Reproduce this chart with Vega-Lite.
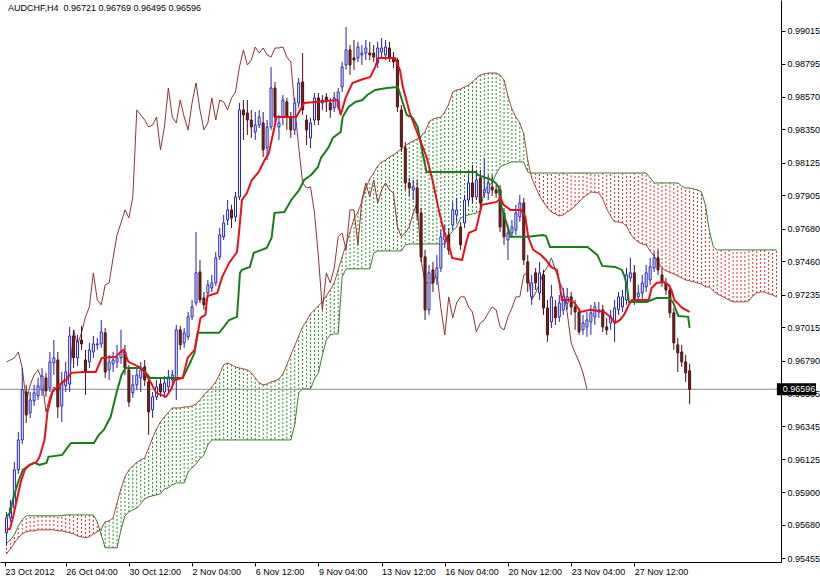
{
"$schema":"https://vega.github.io/schema/vega-lite/v6.json",
"width":781,"height":562,
"autosize":{"type":"none"},
"padding":{"left":0,"top":0,"right":39,"bottom":17},
"background":"#ffffff",
"config":{"view":{"stroke":null},"font":"Liberation Sans",
 "axis":{"labelOverlap":false,"labelSeparation":0,"grid":false,"title":null,"labelFont":"Liberation Sans","labelFontSize":9,"labelColor":"#000000","domainColor":"#000000","tickColor":"#000000","tickSize":4,"labelFlush":false,"labelBound":false,"tickCount":40}},
"datasets":{
"bars":[
{"i":0,"o":0.95627,"h":0.95768,"l":0.95539,"c":0.95728,"k":0.96781},
{"i":1,"o":0.95728,"h":0.95849,"l":0.95701,"c":0.95795,"k":0.96794},
{"i":2,"o":0.95795,"h":0.96106,"l":0.95768,"c":0.96052,"k":0.96808},
{"i":3,"o":0.96052,"h":0.96308,"l":0.96025,"c":0.96254,"k":0.96848},
{"i":4,"o":0.96254,"h":0.9674,"l":0.96227,"c":0.96592,"k":0.9674},
{"i":5,"o":0.96578,"h":0.96626,"l":0.96369,"c":0.96423,"k":0.96511},
{"i":6,"o":0.96437,"h":0.96578,"l":0.96403,"c":0.96524,"k":0.96626},
{"i":7,"o":0.96518,"h":0.96626,"l":0.96484,"c":0.96572,"k":0.96693},
{"i":8,"o":0.96551,"h":0.96673,"l":0.96524,"c":0.96619,"k":0.96727},
{"i":9,"o":0.96592,"h":0.9674,"l":0.96551,"c":0.96686,"k":0.96659},
{"i":10,"o":0.96673,"h":0.96707,"l":0.96545,"c":0.96585,"k":0.96443},
{"i":11,"o":0.96605,"h":0.96848,"l":0.96578,"c":0.96781,"k":0.96545},
{"i":12,"o":0.96774,"h":0.96929,"l":0.96693,"c":0.96808,"k":0.96612},
{"i":13,"o":0.96794,"h":0.96848,"l":0.96403,"c":0.96477,"k":0.96578},
{"i":14,"o":0.96484,"h":0.96713,"l":0.96376,"c":0.96632,"k":0.96639},
{"i":15,"o":0.96619,"h":0.96781,"l":0.96578,"c":0.96713,"k":0.9668},
{"i":16,"o":0.96632,"h":0.97017,"l":0.96578,"c":0.96956,"k":0.96693},
{"i":17,"o":0.96956,"h":0.96997,"l":0.9674,"c":0.96808,"k":0.96997},
{"i":18,"o":0.96808,"h":0.96963,"l":0.96754,"c":0.96916,"k":0.96896},
{"i":19,"o":0.96929,"h":0.97024,"l":0.96862,"c":0.96902,"k":0.96977},
{"i":20,"o":0.96794,"h":0.96862,"l":0.96558,"c":0.96713,"k":0.97085},
{"i":21,"o":0.96781,"h":0.96909,"l":0.9674,"c":0.96862,"k":0.97152},
{"i":22,"o":0.96848,"h":0.96956,"l":0.96808,"c":0.96902,"k":0.97382},
{"i":23,"o":0.96896,"h":0.96943,"l":0.96862,"c":0.96902,"k":0.97199},
{"i":24,"o":0.96902,"h":0.97064,"l":0.96875,"c":0.96983,"k":0.97166},
{"i":25,"o":0.96977,"h":0.9701,"l":0.96673,"c":0.96713,"k":0.97301},
{"i":26,"o":0.96727,"h":0.96828,"l":0.96659,"c":0.96781,"k":0.97314},
{"i":27,"o":0.96767,"h":0.96848,"l":0.96713,"c":0.96794,"k":0.97483},
{"i":28,"o":0.96781,"h":0.96896,"l":0.9674,"c":0.96808,"k":0.97638},
{"i":29,"o":0.96808,"h":0.96997,"l":0.96767,"c":0.96848,"k":0.97719},
{"i":30,"o":0.96848,"h":0.96896,"l":0.96693,"c":0.9674,"k":0.97807},
{"i":31,"o":0.96727,"h":0.96761,"l":0.96477,"c":0.96511,"k":0.97753},
{"i":32,"o":0.96572,"h":0.96693,"l":0.96538,"c":0.96626,"k":0.97894},
{"i":33,"o":0.96626,"h":0.9674,"l":0.96592,"c":0.96693,"k":0.98482},
{"i":34,"o":0.96673,"h":0.96781,"l":0.96578,"c":0.96727,"k":0.98448},
{"i":35,"o":0.96747,"h":0.96794,"l":0.96619,"c":0.96659,"k":0.98414},
{"i":36,"o":0.96646,"h":0.96673,"l":0.96288,"c":0.96443,"k":0.98367},
{"i":37,"o":0.96457,"h":0.96578,"l":0.96403,"c":0.96545,"k":0.9838},
{"i":38,"o":0.96545,"h":0.96659,"l":0.96524,"c":0.96612,"k":0.98434},
{"i":39,"o":0.96632,"h":0.96673,"l":0.96545,"c":0.96578,"k":0.98212},
{"i":40,"o":0.96578,"h":0.96686,"l":0.96538,"c":0.96639,"k":0.98367},
{"i":41,"o":0.96612,"h":0.96727,"l":0.96578,"c":0.9668,"k":0.9863},
{"i":42,"o":0.96659,"h":0.96727,"l":0.96605,"c":0.96693,"k":0.98434},
{"i":43,"o":0.96659,"h":0.97031,"l":0.96524,"c":0.96997,"k":0.98394},
{"i":44,"o":0.96997,"h":0.97024,"l":0.96862,"c":0.96896,"k":0.98549},
{"i":45,"o":0.96909,"h":0.9701,"l":0.96875,"c":0.96977,"k":0.98434},
{"i":46,"o":0.9695,"h":0.97118,"l":0.96929,"c":0.97085,"k":0.98347},
{"i":47,"o":0.97085,"h":0.97199,"l":0.97064,"c":0.97152,"k":0.98529},
{"i":48,"o":0.97179,"h":0.97658,"l":0.97159,"c":0.97382,"k":0.98664},
{"i":49,"o":0.97388,"h":0.97469,"l":0.97179,"c":0.97199,"k":0.98482},
{"i":50,"o":0.97213,"h":0.97253,"l":0.97132,"c":0.97166,"k":0.98347},
{"i":51,"o":0.97246,"h":0.97334,"l":0.97213,"c":0.97301,"k":0.98394},
{"i":52,"o":0.9728,"h":0.97368,"l":0.97253,"c":0.97314,"k":0.98563},
{"i":53,"o":0.97314,"h":0.97523,"l":0.97294,"c":0.97483,"k":0.98414},
{"i":54,"o":0.9749,"h":0.97685,"l":0.97469,"c":0.97638,"k":0.98549},
{"i":55,"o":0.97625,"h":0.97773,"l":0.97604,"c":0.97719,"k":0.98536},
{"i":56,"o":0.97739,"h":0.97874,"l":0.97705,"c":0.97807,"k":0.98482},
{"i":57,"o":0.97807,"h":0.97841,"l":0.97685,"c":0.97753,"k":0.98563},
{"i":58,"o":0.9776,"h":0.97928,"l":0.97726,"c":0.97894,"k":0.98603},
{"i":59,"o":0.97894,"h":0.98529,"l":0.97874,"c":0.98482,"k":0.98772},
{"i":60,"o":0.98482,"h":0.98549,"l":0.98279,"c":0.98448,"k":0.98887},
{"i":61,"o":0.98461,"h":0.98549,"l":0.98313,"c":0.98414,"k":0.98785},
{"i":62,"o":0.98414,"h":0.98482,"l":0.98293,"c":0.98367,"k":0.98819},
{"i":63,"o":0.98333,"h":0.98468,"l":0.98279,"c":0.9838,"k":0.98907},
{"i":64,"o":0.9838,"h":0.98482,"l":0.9836,"c":0.98434,"k":0.98866},
{"i":65,"o":0.98394,"h":0.98468,"l":0.98164,"c":0.98212,"k":0.989},
{"i":66,"o":0.98225,"h":0.98414,"l":0.98144,"c":0.98367,"k":0.98853},
{"i":67,"o":0.98367,"h":0.98772,"l":0.98347,"c":0.9863,"k":0.98839},
{"i":68,"o":0.9863,"h":0.98671,"l":0.98401,"c":0.98434,"k":0.989},
{"i":69,"o":0.98367,"h":0.98448,"l":0.98279,"c":0.98394,"k":0.989},
{"i":70,"o":0.98434,"h":0.98583,"l":0.9838,"c":0.98549,"k":0.98907},
{"i":71,"o":0.98536,"h":0.98563,"l":0.98347,"c":0.98434,"k":0.98839},
{"i":72,"o":0.98434,"h":0.98468,"l":0.98293,"c":0.98347,"k":0.98806},
{"i":73,"o":0.98347,"h":0.98563,"l":0.98313,"c":0.98529,"k":0.98502},
{"i":74,"o":0.98529,"h":0.98698,"l":0.98495,"c":0.98664,"k":0.98232},
{"i":75,"o":0.98671,"h":0.98866,"l":0.98448,"c":0.98482,"k":0.97989},
{"i":76,"o":0.98414,"h":0.98448,"l":0.98245,"c":0.98347,"k":0.97955},
{"i":77,"o":0.98293,"h":0.98428,"l":0.98225,"c":0.98394,"k":0.97962},
{"i":78,"o":0.98414,"h":0.98596,"l":0.9838,"c":0.98563,"k":0.97786},
{"i":79,"o":0.98563,"h":0.98596,"l":0.9838,"c":0.98414,"k":0.9749},
{"i":80,"o":0.98529,"h":0.98583,"l":0.98482,"c":0.98549,"k":0.97132},
{"i":81,"o":0.98569,"h":0.98596,"l":0.98468,"c":0.98536,"k":0.97382},
{"i":82,"o":0.98529,"h":0.98563,"l":0.98428,"c":0.98482,"k":0.97314},
{"i":83,"o":0.98495,"h":0.98603,"l":0.98468,"c":0.98563,"k":0.97415},
{"i":84,"o":0.98502,"h":0.9863,"l":0.98482,"c":0.98603,"k":0.97625},
{"i":85,"o":0.98637,"h":0.98806,"l":0.98603,"c":0.98772,"k":0.97651},
{"i":86,"o":0.98785,"h":0.99042,"l":0.98752,"c":0.98887,"k":0.97537},
{"i":87,"o":0.98887,"h":0.9892,"l":0.98718,"c":0.98785,"k":0.97807},
{"i":88,"o":0.98833,"h":0.98954,"l":0.98752,"c":0.98819,"k":0.97807},
{"i":89,"o":0.98833,"h":0.98941,"l":0.98806,"c":0.98907,"k":0.97571},
{"i":90,"o":0.98853,"h":0.9892,"l":0.98785,"c":0.98866,"k":0.97874},
{"i":91,"o":0.98866,"h":0.98954,"l":0.98819,"c":0.989,"k":0.97989},
{"i":92,"o":0.98866,"h":0.98941,"l":0.98819,"c":0.98853,"k":0.97894},
{"i":93,"o":0.98866,"h":0.9892,"l":0.98806,"c":0.98839,"k":0.98009},
{"i":94,"o":0.98799,"h":0.98941,"l":0.98765,"c":0.989,"k":0.97854},
{"i":95,"o":0.98873,"h":0.98968,"l":0.98833,"c":0.989,"k":0.97942},
{"i":96,"o":0.98853,"h":0.98954,"l":0.98819,"c":0.98907,"k":0.97989},
{"i":97,"o":0.989,"h":0.98941,"l":0.98806,"c":0.98839,"k":0.97942},
{"i":98,"o":0.98833,"h":0.98873,"l":0.98765,"c":0.98806,"k":0.97921},
{"i":99,"o":0.98819,"h":0.98833,"l":0.98468,"c":0.98502,"k":0.97692},
{"i":100,"o":0.98482,"h":0.98515,"l":0.98198,"c":0.98232,"k":0.97625},
{"i":101,"o":0.98225,"h":0.98266,"l":0.97942,"c":0.97989,"k":0.97651},
{"i":102,"o":0.97989,"h":0.98023,"l":0.97901,"c":0.97955,"k":0.97692},
{"i":103,"o":0.97942,"h":0.98009,"l":0.97874,"c":0.97962,"k":0.97786},
{"i":104,"o":0.97955,"h":0.98009,"l":0.97739,"c":0.97786,"k":0.97854},
{"i":105,"o":0.97786,"h":0.9782,"l":0.97456,"c":0.9749,"k":0.97469},
{"i":106,"o":0.9749,"h":0.97537,"l":0.97064,"c":0.97132,"k":0.97314},
{"i":107,"o":0.97132,"h":0.97435,"l":0.97098,"c":0.97382,"k":0.97314},
{"i":108,"o":0.97402,"h":0.97456,"l":0.97253,"c":0.97314,"k":0.97314},
{"i":109,"o":0.97348,"h":0.97503,"l":0.97301,"c":0.97415,"k":0.97382},
{"i":110,"o":0.97415,"h":0.97672,"l":0.97388,"c":0.97625,"k":0.97145},
{"i":111,"o":0.97604,"h":0.97705,"l":0.9755,"c":0.97651,"k":0.96963},
{"i":112,"o":0.97638,"h":0.97685,"l":0.97503,"c":0.97537,"k":0.9722},
{"i":113,"o":0.97705,"h":0.97861,"l":0.97672,"c":0.97807,"k":0.97078},
{"i":114,"o":0.97773,"h":0.97888,"l":0.97726,"c":0.97807,"k":0.97179},
{"i":115,"o":0.97692,"h":0.97726,"l":0.97537,"c":0.97571,"k":0.9722},
{"i":116,"o":0.97719,"h":0.97908,"l":0.97685,"c":0.97874,"k":0.9722},
{"i":117,"o":0.97874,"h":0.98043,"l":0.97841,"c":0.97989,"k":0.97152},
{"i":118,"o":0.97989,"h":0.9811,"l":0.97854,"c":0.97894,"k":0.97118},
{"i":119,"o":0.97894,"h":0.98077,"l":0.97874,"c":0.98009,"k":0.96983},
{"i":120,"o":0.98023,"h":0.98077,"l":0.97793,"c":0.97854,"k":0.97044},
{"i":121,"o":0.97921,"h":0.98158,"l":0.97888,"c":0.97942,"k":0.97064},
{"i":122,"o":0.97921,"h":0.98043,"l":0.97874,"c":0.97989,"k":0.97112},
{"i":123,"o":0.97962,"h":0.98043,"l":0.97901,"c":0.97942,"k":0.97152},
{"i":124,"o":0.97942,"h":0.97975,"l":0.97888,"c":0.97921,"k":0.97132},
{"i":125,"o":0.97942,"h":0.97975,"l":0.97658,"c":0.97692,"k":0.97017},
{"i":126,"o":0.97786,"h":0.9782,"l":0.97571,"c":0.97625,"k":0.96997},
{"i":127,"o":0.97604,"h":0.97705,"l":0.97469,"c":0.97651,"k":0.97085},
{"i":128,"o":0.97651,"h":0.97739,"l":0.97618,"c":0.97692,"k":0.97145},
{"i":129,"o":0.97672,"h":0.97841,"l":0.97638,"c":0.97786,"k":0.9722},
{"i":130,"o":0.9776,"h":0.97908,"l":0.97726,"c":0.97854,"k":0.9722},
{"i":131,"o":0.97854,"h":0.97888,"l":0.97435,"c":0.97469,"k":0.97368},
{"i":132,"o":0.97456,"h":0.97503,"l":0.97253,"c":0.97314,"k":0.97382},
{"i":133,"o":0.9722,"h":0.97368,"l":0.97166,"c":0.97314,"k":0.97199},
{"i":134,"o":0.97382,"h":0.97415,"l":0.97267,"c":0.97314,"k":0.97246},
{"i":135,"o":0.97246,"h":0.97456,"l":0.97199,"c":0.97382,"k":0.97314},
{"i":136,"o":0.97368,"h":0.97402,"l":0.97098,"c":0.97145,"k":0.97382},
{"i":137,"o":0.97145,"h":0.97199,"l":0.96916,"c":0.96963,"k":0.97422},
{"i":138,"o":0.97051,"h":0.97301,"l":0.9701,"c":0.9722,"k":0.97483},
{"i":139,"o":0.97152,"h":0.97199,"l":0.97031,"c":0.97078,"k":0.97402},
{"i":140,"o":0.97085,"h":0.97233,"l":0.97051,"c":0.97179,"k":0.97321},
{"i":141,"o":0.97132,"h":0.9728,"l":0.97098,"c":0.9722,"k":0.97267},
{"i":142,"o":0.97179,"h":0.9728,"l":0.97132,"c":0.9722,"k":0.97112},
{"i":143,"o":0.9722,"h":0.97253,"l":0.97098,"c":0.97152,"k":0.96909},
{"i":144,"o":0.97152,"h":0.97199,"l":0.96997,"c":0.97118,"k":0.96842},
{"i":145,"o":0.97118,"h":0.97145,"l":0.96963,"c":0.96983,"k":0.96781},
{"i":146,"o":0.96997,"h":0.97098,"l":0.96963,"c":0.97044,"k":0.96707},
{"i":147,"o":0.97017,"h":0.97118,"l":0.9695,"c":0.97064,"k":0.96596},
{"i":148,"o":0.97051,"h":0.97166,"l":0.96963,"c":0.97112},
{"i":149,"o":0.97085,"h":0.97186,"l":0.97031,"c":0.97152},
{"i":150,"o":0.97118,"h":0.97186,"l":0.97078,"c":0.97132},
{"i":151,"o":0.97132,"h":0.97166,"l":0.96983,"c":0.97017},
{"i":152,"o":0.97017,"h":0.97078,"l":0.96963,"c":0.96997},
{"i":153,"o":0.97044,"h":0.97132,"l":0.96997,"c":0.97085},
{"i":154,"o":0.97044,"h":0.97199,"l":0.96916,"c":0.97145},
{"i":155,"o":0.97132,"h":0.97253,"l":0.97098,"c":0.9722},
{"i":156,"o":0.97152,"h":0.97267,"l":0.97118,"c":0.9722},
{"i":157,"o":0.97199,"h":0.97415,"l":0.97166,"c":0.97368},
{"i":158,"o":0.97348,"h":0.97483,"l":0.97321,"c":0.97382},
{"i":159,"o":0.97382,"h":0.97435,"l":0.97166,"c":0.97199},
{"i":160,"o":0.9722,"h":0.97301,"l":0.97186,"c":0.97246},
{"i":161,"o":0.97246,"h":0.97368,"l":0.97199,"c":0.97314},
{"i":162,"o":0.97287,"h":0.97435,"l":0.97253,"c":0.97382},
{"i":163,"o":0.97334,"h":0.97483,"l":0.97301,"c":0.97422},
{"i":164,"o":0.97415,"h":0.97523,"l":0.97388,"c":0.97483},
{"i":165,"o":0.97483,"h":0.97537,"l":0.97368,"c":0.97402},
{"i":166,"o":0.97368,"h":0.97415,"l":0.97287,"c":0.97321},
{"i":167,"o":0.97314,"h":0.97348,"l":0.97233,"c":0.97267},
{"i":168,"o":0.97267,"h":0.97301,"l":0.97078,"c":0.97112},
{"i":169,"o":0.97112,"h":0.97145,"l":0.96862,"c":0.96909},
{"i":170,"o":0.96896,"h":0.96943,"l":0.96713,"c":0.96842},
{"i":171,"o":0.96848,"h":0.96896,"l":0.96747,"c":0.96781},
{"i":172,"o":0.96781,"h":0.96828,"l":0.96646,"c":0.96707},
{"i":173,"o":0.96721,"h":0.96769,"l":0.96495,"c":0.96596}
],
"cloud":[
{"i":0,"a":0.95485,"b":0.95553},{"i":1,"a":0.95519,"b":0.9558},{"i":2,"a":0.95559,"b":0.95613},{"i":3,"a":0.95593,"b":0.95674},{"i":4,"a":0.9562,"b":0.95715},{"i":5,"a":0.95633,"b":0.95742},{"i":6,"a":0.9564,"b":0.95742},{"i":7,"a":0.9564,"b":0.95742},{"i":8,"a":0.95647,"b":0.95742},{"i":9,"a":0.95647,"b":0.95742},
{"i":10,"a":0.95647,"b":0.95742},{"i":11,"a":0.95647,"b":0.95742},{"i":12,"a":0.95647,"b":0.95742},{"i":13,"a":0.9564,"b":0.95742},{"i":14,"a":0.9564,"b":0.95742},{"i":15,"a":0.95633,"b":0.95748},{"i":16,"a":0.95627,"b":0.95748},{"i":17,"a":0.9562,"b":0.95748},{"i":18,"a":0.95606,"b":0.95748},{"i":19,"a":0.956,"b":0.95748},
{"i":20,"a":0.95593,"b":0.95748},{"i":21,"a":0.956,"b":0.95748},{"i":22,"a":0.9562,"b":0.95748},{"i":23,"a":0.95633,"b":0.95701},{"i":24,"a":0.95654,"b":0.95613},{"i":25,"a":0.95701,"b":0.95526},{"i":26,"a":0.95708,"b":0.95526},{"i":27,"a":0.95728,"b":0.95526},{"i":28,"a":0.95829,"b":0.95526},{"i":29,"a":0.95924,"b":0.95647},
{"i":30,"a":0.96005,"b":0.95742},{"i":31,"a":0.96052,"b":0.95768},{"i":32,"a":0.96079,"b":0.95782},{"i":33,"a":0.96103,"b":0.95795},{"i":34,"a":0.9612,"b":0.95823},{"i":35,"a":0.96133,"b":0.95856},{"i":36,"a":0.962,"b":0.9587},{"i":37,"a":0.96268,"b":0.95877},{"i":38,"a":0.96329,"b":0.95883},{"i":39,"a":0.96376,"b":0.9589},
{"i":40,"a":0.9641,"b":0.95924},{"i":41,"a":0.9644,"b":0.95931},{"i":42,"a":0.9647,"b":0.95951},{"i":43,"a":0.9647,"b":0.95964},{"i":44,"a":0.9647,"b":0.95964},{"i":45,"a":0.96477,"b":0.95964},{"i":46,"a":0.96477,"b":0.96039},{"i":47,"a":0.96484,"b":0.96066},{"i":48,"a":0.96497,"b":0.96093},{"i":49,"a":0.96524,"b":0.96126},
{"i":50,"a":0.96558,"b":0.96153},{"i":51,"a":0.96585,"b":0.96221},{"i":52,"a":0.96612,"b":0.96254},{"i":53,"a":0.96646,"b":0.96254},{"i":54,"a":0.967,"b":0.96254},{"i":55,"a":0.96761,"b":0.96254},{"i":56,"a":0.96774,"b":0.96254},{"i":57,"a":0.96761,"b":0.96254},{"i":58,"a":0.96747,"b":0.96254},{"i":59,"a":0.9674,"b":0.96254},
{"i":60,"a":0.96734,"b":0.96254},{"i":61,"a":0.96727,"b":0.96254},{"i":62,"a":0.96707,"b":0.96254},{"i":63,"a":0.96673,"b":0.96254},{"i":64,"a":0.96639,"b":0.96254},{"i":65,"a":0.96626,"b":0.96254},{"i":66,"a":0.96632,"b":0.96254},{"i":67,"a":0.96646,"b":0.96254},{"i":68,"a":0.96653,"b":0.96254},{"i":69,"a":0.96666,"b":0.96254},
{"i":70,"a":0.967,"b":0.96254},{"i":71,"a":0.96761,"b":0.96254},{"i":72,"a":0.96828,"b":0.96254},{"i":73,"a":0.96889,"b":0.96356},{"i":74,"a":0.96956,"b":0.96572},{"i":75,"a":0.97017,"b":0.96599},{"i":76,"a":0.97058,"b":0.96599},{"i":77,"a":0.97105,"b":0.96599},{"i":78,"a":0.97132,"b":0.96666},{"i":79,"a":0.97159,"b":0.96707},
{"i":80,"a":0.97186,"b":0.96828},{"i":81,"a":0.97226,"b":0.96929},{"i":82,"a":0.97267,"b":0.96963},{"i":83,"a":0.97314,"b":0.9697},{"i":84,"a":0.97402,"b":0.9697},{"i":85,"a":0.9749,"b":0.97355},{"i":86,"a":0.97571,"b":0.97409},{"i":87,"a":0.97658,"b":0.97409},{"i":88,"a":0.97746,"b":0.97409},{"i":89,"a":0.97793,"b":0.97409},
{"i":90,"a":0.97861,"b":0.97409},{"i":91,"a":0.97955,"b":0.97409},{"i":92,"a":0.98016,"b":0.97409},{"i":93,"a":0.98056,"b":0.97517},{"i":94,"a":0.98104,"b":0.9753},{"i":95,"a":0.98131,"b":0.9753},{"i":96,"a":0.98144,"b":0.9753},{"i":97,"a":0.98164,"b":0.9753},{"i":98,"a":0.98178,"b":0.9753},{"i":99,"a":0.98198,"b":0.9753},
{"i":100,"a":0.98218,"b":0.9753},{"i":101,"a":0.98239,"b":0.97571},{"i":102,"a":0.98259,"b":0.97577},{"i":103,"a":0.98272,"b":0.97577},{"i":104,"a":0.98286,"b":0.97577},{"i":105,"a":0.98306,"b":0.97577},{"i":106,"a":0.98333,"b":0.97577},{"i":107,"a":0.98401,"b":0.97577},{"i":108,"a":0.98421,"b":0.97577},{"i":109,"a":0.98428,"b":0.97577},
{"i":110,"a":0.98434,"b":0.97577},{"i":111,"a":0.98468,"b":0.97577},{"i":112,"a":0.98522,"b":0.97631},{"i":113,"a":0.98603,"b":0.97665},{"i":114,"a":0.98617,"b":0.97692},{"i":115,"a":0.98623,"b":0.97753},{"i":116,"a":0.98637,"b":0.97766},{"i":117,"a":0.9865,"b":0.97773},{"i":118,"a":0.98671,"b":0.9778},{"i":119,"a":0.98698,"b":0.97787},
{"i":120,"a":0.98718,"b":0.978},{"i":121,"a":0.98725,"b":0.97935},{"i":122,"a":0.98731,"b":0.97969},{"i":123,"a":0.98731,"b":0.97989},{"i":124,"a":0.98731,"b":0.9805},{"i":125,"a":0.98718,"b":0.98097},{"i":126,"a":0.98684,"b":0.9811},{"i":127,"a":0.98576,"b":0.98121},{"i":128,"a":0.98488,"b":0.98131},{"i":129,"a":0.98434,"b":0.98131},
{"i":130,"a":0.98394,"b":0.98131},{"i":131,"a":0.9832,"b":0.98131},{"i":132,"a":0.98144,"b":0.98063},{"i":133,"a":0.98023,"b":0.98056},{"i":134,"a":0.97962,"b":0.98056},{"i":135,"a":0.97901,"b":0.98056},{"i":136,"a":0.97861,"b":0.98056},{"i":137,"a":0.9782,"b":0.98056},{"i":138,"a":0.97793,"b":0.98056},{"i":139,"a":0.9778,"b":0.98056},
{"i":140,"a":0.97766,"b":0.98056},{"i":141,"a":0.97773,"b":0.98056},{"i":142,"a":0.97793,"b":0.98056},{"i":143,"a":0.9781,"b":0.98056},{"i":144,"a":0.97834,"b":0.98056},{"i":145,"a":0.97861,"b":0.98056},{"i":146,"a":0.97888,"b":0.98056},{"i":147,"a":0.97908,"b":0.98056},{"i":148,"a":0.97928,"b":0.98056},{"i":149,"a":0.97925,"b":0.98056},
{"i":150,"a":0.97921,"b":0.98056},{"i":151,"a":0.97881,"b":0.98056},{"i":152,"a":0.97814,"b":0.98056},{"i":153,"a":0.97766,"b":0.98056},{"i":154,"a":0.97726,"b":0.98056},{"i":155,"a":0.97726,"b":0.98056},{"i":156,"a":0.97719,"b":0.98056},{"i":157,"a":0.97699,"b":0.98056},{"i":158,"a":0.97645,"b":0.98056},{"i":159,"a":0.97611,"b":0.98056},
{"i":160,"a":0.97591,"b":0.98056},{"i":161,"a":0.97577,"b":0.98056},{"i":162,"a":0.97571,"b":0.98056},{"i":163,"a":0.9753,"b":0.98023},{"i":164,"a":0.97496,"b":0.97989},{"i":165,"a":0.97456,"b":0.97989},{"i":166,"a":0.97415,"b":0.97989},{"i":167,"a":0.97395,"b":0.97989},{"i":168,"a":0.97385,"b":0.97989},{"i":169,"a":0.97375,"b":0.97989},
{"i":170,"a":0.97361,"b":0.97989},{"i":171,"a":0.97348,"b":0.97969},{"i":172,"a":0.97334,"b":0.97955},{"i":173,"a":0.97328,"b":0.97955},{"i":174,"a":0.97321,"b":0.97948},{"i":175,"a":0.97314,"b":0.97942},{"i":176,"a":0.97307,"b":0.97928},{"i":177,"a":0.97287,"b":0.97841},{"i":178,"a":0.97287,"b":0.97665},{"i":179,"a":0.9726,"b":0.97557},
{"i":180,"a":0.9724,"b":0.97537},{"i":181,"a":0.97226,"b":0.97537},{"i":182,"a":0.97213,"b":0.97537},{"i":183,"a":0.97199,"b":0.97537},{"i":184,"a":0.97186,"b":0.97537},{"i":185,"a":0.97186,"b":0.97537},{"i":186,"a":0.97186,"b":0.97537},{"i":187,"a":0.97186,"b":0.97537},{"i":188,"a":0.97193,"b":0.97537},{"i":189,"a":0.97226,"b":0.97537},
{"i":190,"a":0.97247,"b":0.97537},{"i":191,"a":0.97253,"b":0.97537},{"i":192,"a":0.97253,"b":0.97537},{"i":193,"a":0.9724,"b":0.97537},{"i":194,"a":0.97233,"b":0.97537},{"i":195,"a":0.9722,"b":0.97537}
],
"tenkan":[
{"i":0,"v":0.95647},{"i":0.88,"v":0.95654},{"i":1.63,"v":0.95728},{"i":2.63,"v":0.9585},{"i":3.63,"v":0.95971},{"i":4.63,"v":0.96052},{"i":5.88,"v":0.96086},{"i":7.63,"v":0.96106},{"i":8.38,"v":0.9614},{"i":9.63,"v":0.96254},{"i":10.38,"v":0.96443},{"i":11.63,"v":0.96578},{"i":13.38,"v":0.96626},{"i":15.13,"v":0.96659},{"i":16.38,"v":0.96707},{"i":19.63,"v":0.96713},{"i":22.63,"v":0.96713},{"i":24.13,"v":0.96808},{"i":27.63,"v":0.96815},{"i":28.88,"v":0.96848},{"i":29.63,"v":0.96862},{"i":30.88,"v":0.96781},{"i":34.13,"v":0.9674},{"i":35.38,"v":0.96693},{"i":36.63,"v":0.96639},{"i":37.88,"v":0.96572},{"i":40.38,"v":0.96545},{"i":41.63,"v":0.96592},{"i":42.63,"v":0.96659},{"i":44.63,"v":0.96673},{"i":45.88,"v":0.96808},{"i":47.63,"v":0.96862},{"i":48.38,"v":0.96963},{"i":49.13,"v":0.97078},{"i":50.38,"v":0.97098},{"i":50.88,"v":0.97226},{"i":53.38,"v":0.97246},{"i":54.63,"v":0.97355},{"i":56.38,"v":0.97449},{"i":58.38,"v":0.97523},{"i":58.88,"v":0.97652},{"i":59.63,"v":0.97874},{"i":60.88,"v":0.97921},{"i":62.13,"v":0.98009},{"i":63.88,"v":0.98063},{"i":65.38,"v":0.98144},{"i":66.38,"v":0.98185},{"i":67.88,"v":0.98367},{"i":68.38,"v":0.98434},{"i":73.38,"v":0.98434},{"i":75.38,"v":0.98529},{"i":83.88,"v":0.98549},{"i":84.63,"v":0.98448},{"i":85.88,"v":0.98563},{"i":87.63,"v":0.98664},{"i":89.63,"v":0.98684},{"i":92.13,"v":0.98704},{"i":93.38,"v":0.98772},{"i":94.13,"v":0.98833},{"i":98.38,"v":0.98833},{"i":99.63,"v":0.98752},{"i":100.38,"v":0.98637},{"i":102.13,"v":0.98461},{"i":106.38,"v":0.98164},{"i":107.88,"v":0.98009},{"i":109.63,"v":0.97787},{"i":110.88,"v":0.97652},{"i":112.13,"v":0.97557},{"i":112.88,"v":0.97483},{"i":115.38,"v":0.97469},{"i":116.38,"v":0.97584},{"i":117.13,"v":0.97652},{"i":118.88,"v":0.97672},{"i":119.63,"v":0.9776},{"i":120.38,"v":0.97841},{"i":124.13,"v":0.97861},{"i":125.13,"v":0.97888},{"i":125.88,"v":0.97841},{"i":127.63,"v":0.97807},{"i":130.38,"v":0.97807},{"i":131.38,"v":0.9776},{"i":132.13,"v":0.97625},{"i":133.38,"v":0.97537},{"i":135.38,"v":0.97503},{"i":136.63,"v":0.97469},{"i":137.88,"v":0.97422},{"i":139.38,"v":0.97402},{"i":140.13,"v":0.97301},{"i":140.63,"v":0.97199},{"i":142.63,"v":0.97199},{"i":143.88,"v":0.97179},{"i":145.38,"v":0.97118},{"i":147.88,"v":0.97132},{"i":151.38,"v":0.97118},{"i":152.88,"v":0.97085},{"i":154.13,"v":0.97044},{"i":155.38,"v":0.97064},{"i":156.38,"v":0.97098},{"i":157.63,"v":0.97166},{"i":158.38,"v":0.97199},{"i":162.63,"v":0.97199},{"i":163.38,"v":0.9728},{"i":164.63,"v":0.97314},{"i":166.38,"v":0.97321},{"i":167.63,"v":0.97301},{"i":168.38,"v":0.97267},{"i":169.13,"v":0.97199},{"i":171.13,"v":0.97145},{"i":173,"v":0.97118}
],
"kijun":[
{"i":0,"v":0.95735},{"i":0.88,"v":0.95762},{"i":1.63,"v":0.9585},{"i":2.88,"v":0.95964},{"i":4.13,"v":0.96052},{"i":5.88,"v":0.96086},{"i":7.13,"v":0.96099},{"i":8.38,"v":0.96086},{"i":10.13,"v":0.96099},{"i":10.63,"v":0.9614},{"i":14.13,"v":0.96153},{"i":15.38,"v":0.962},{"i":16.38,"v":0.96234},{"i":22.13,"v":0.96234},{"i":23.38,"v":0.96288},{"i":24.63,"v":0.96322},{"i":26.38,"v":0.9641},{"i":27.88,"v":0.96572},{"i":29.13,"v":0.96693},{"i":30.13,"v":0.9674},{"i":33.88,"v":0.9674},{"i":35.13,"v":0.96713},{"i":36.38,"v":0.96673},{"i":44.63,"v":0.96673},{"i":45.88,"v":0.9674},{"i":47.63,"v":0.96842},{"i":48.38,"v":0.96977},{"i":53.88,"v":0.96977},{"i":56.38,"v":0.97064},{"i":58.38,"v":0.97085},{"i":59.13,"v":0.97382},{"i":59.63,"v":0.97402},{"i":61.63,"v":0.97422},{"i":62.63,"v":0.97517},{"i":65.88,"v":0.9755},{"i":67.13,"v":0.97618},{"i":67.88,"v":0.97787},{"i":70.38,"v":0.97793},{"i":72.13,"v":0.97874},{"i":74.13,"v":0.97942},{"i":75.38,"v":0.98009},{"i":77.13,"v":0.98043},{"i":78.88,"v":0.98097},{"i":79.63,"v":0.98158},{"i":81.63,"v":0.98232},{"i":82.63,"v":0.98293},{"i":84.63,"v":0.98333},{"i":85.13,"v":0.98434},{"i":86.63,"v":0.98502},{"i":88.38,"v":0.98536},{"i":90.13,"v":0.98549},{"i":91.38,"v":0.98583},{"i":93.38,"v":0.98617},{"i":96.38,"v":0.9863},{"i":99.13,"v":0.98637},{"i":100.38,"v":0.98529},{"i":101.38,"v":0.98448},{"i":102.88,"v":0.98428},{"i":104.13,"v":0.98367},{"i":105.38,"v":0.98191},{"i":106.38,"v":0.98063},{"i":118.88,"v":0.98063},{"i":119.38,"v":0.98043},{"i":122.88,"v":0.98009},{"i":123.88,"v":0.97989},{"i":124.63,"v":0.97962},{"i":125.38,"v":0.97827},{"i":126.63,"v":0.97719},{"i":127.63,"v":0.97625},{"i":132.13,"v":0.97625},{"i":135.88,"v":0.97638},{"i":136.63,"v":0.97631},{"i":137.63,"v":0.97557},{"i":147.13,"v":0.97557},{"i":149.63,"v":0.97503},{"i":150.88,"v":0.97429},{"i":154.13,"v":0.97422},{"i":155.88,"v":0.97402},{"i":156.63,"v":0.97348},{"i":157.13,"v":0.97287},{"i":157.63,"v":0.97186},{"i":162.13,"v":0.97186},{"i":163.38,"v":0.97199},{"i":164.63,"v":0.97213},{"i":167.88,"v":0.97213},{"i":168.88,"v":0.97179},{"i":170.13,"v":0.97091},{"i":172.63,"v":0.97085},{"i":173,"v":0.9701}
]
},
"layer":[
{"data":{"name":"cloud"},
 "mark":{"type":"rule","strokeDash":[2,2],"strokeWidth":1,"clip":true},
 "encoding":{
  "x":{"field":"i","type":"quantitative","scale":{"domain":[-0.375,194.875],"nice":false,"zero":false},
   "axis":{"orient":"bottom","values":[-0.375,15,31,47,63,79,95,111,127,143,159],"tickCount":40,
    "labelExpr":"datum.value < 1 ? '23 Oct 2012' : datum.value == 15 ? '26 Oct 04:00' : datum.value == 31 ? '30 Oct 12:00' : datum.value == 47 ? '2 Nov 04:00' : datum.value == 63 ? '6 Nov 12:00' : datum.value == 79 ? '9 Nov 04:00' : datum.value == 95 ? '13 Nov 12:00' : datum.value == 111 ? '16 Nov 04:00' : datum.value == 127 ? '20 Nov 12:00' : datum.value == 143 ? '23 Nov 04:00' : '27 Nov 12:00'",
    "labelAlign":"left","labelBaseline":"top","labelDx":2,"labelPadding":1,"labelOverlap":false}},
  "y":{"field":"a","type":"quantitative","scale":{"domain":[0.9543,0.99224],"nice":false,"zero":false},
   "axis":{"orient":"right","values":[0.99015,0.98795,0.9857,0.9835,0.98125,0.97905,0.9768,0.9746,0.97235,0.97015,0.9679,0.96565,0.96345,0.96125,0.959,0.9568,0.95455],"tickCount":40,"format":".5f","labelPadding":2,"labelOverlap":false}},
  "y2":{"field":"b"},
  "stroke":{"condition":{"test":"datum.a >= datum.b","value":"#1f8a1f"},"value":"#e02424"}
 }},
{"data":{"name":"cloud"},
 "mark":{"type":"line","strokeWidth":1,"color":"#a24a3c","clip":true},
 "encoding":{"x":{"field":"i","type":"quantitative","scale":{"domain":[-0.375,194.875],"nice":false,"zero":false}},
  "y":{"field":"a","type":"quantitative","scale":{"domain":[0.9543,0.99224],"nice":false,"zero":false}}}},
{"data":{"name":"cloud"},
 "mark":{"type":"line","strokeWidth":1,"color":"#3d7a2e","clip":true},
 "encoding":{"x":{"field":"i","type":"quantitative","scale":{"domain":[-0.375,194.875],"nice":false,"zero":false}},
  "y":{"field":"b","type":"quantitative","scale":{"domain":[0.9543,0.99224],"nice":false,"zero":false}}}},
{"data":{"name":"bars"},
 "transform":[{"filter":"isValid(datum.k)"}],
 "mark":{"type":"line","strokeWidth":1,"color":"#8e3434"},
 "encoding":{"x":{"field":"i","type":"quantitative","scale":{"domain":[-0.375,194.875],"nice":false,"zero":false}},
  "y":{"field":"k","type":"quantitative","scale":{"domain":[0.9543,0.99224],"nice":false,"zero":false}}}},
{"data":{"values":[{}]},
 "mark":{"type":"rule","color":"#8c8c8c","strokeWidth":1},
 "encoding":{"y":{"datum":0.96596,"type":"quantitative","scale":{"domain":[0.9543,0.99224],"nice":false,"zero":false}}}},
{"data":{"name":"bars"},
 "mark":{"type":"rule","strokeWidth":1},
 "encoding":{"x":{"field":"i","type":"quantitative","scale":{"domain":[-0.375,194.875],"nice":false,"zero":false}},
  "y":{"field":"l","type":"quantitative","scale":{"domain":[0.9543,0.99224],"nice":false,"zero":false}},
  "y2":{"field":"h"},
  "stroke":{"condition":{"test":"datum.c >= datum.o","value":"#2020b8"},"value":"#4a1010"}}},
{"data":{"name":"bars"},
 "mark":{"type":"bar","width":2,"strokeWidth":1},
 "encoding":{"x":{"field":"i","type":"quantitative","scale":{"domain":[-0.375,194.875],"nice":false,"zero":false}},
  "y":{"field":"o","type":"quantitative","scale":{"domain":[0.9543,0.99224],"nice":false,"zero":false}},
  "y2":{"field":"c"},
  "fill":{"condition":{"test":"datum.c >= datum.o","value":"#ffffff"},"value":"#7d2424"},
  "stroke":{"condition":{"test":"datum.c >= datum.o","value":"#2020b8"},"value":"#4a1010"}}},
{"data":{"name":"kijun"},
 "mark":{"type":"line","strokeWidth":2,"color":"#1c7c1c"},
 "encoding":{"x":{"field":"i","type":"quantitative","scale":{"domain":[-0.375,194.875],"nice":false,"zero":false}},
  "y":{"field":"v","type":"quantitative","scale":{"domain":[0.9543,0.99224],"nice":false,"zero":false}}}},
{"data":{"name":"tenkan"},
 "mark":{"type":"line","strokeWidth":2,"color":"#e3121c"},
 "encoding":{"x":{"field":"i","type":"quantitative","scale":{"domain":[-0.375,194.875],"nice":false,"zero":false}},
  "y":{"field":"v","type":"quantitative","scale":{"domain":[0.9543,0.99224],"nice":false,"zero":false}}}},
{"data":{"values":[{"t":"AUDCHF,H4 \u00a00.96721 0.96769 0.96495 0.96596"}]},
 "mark":{"type":"text","align":"left","baseline":"middle","font":"Liberation Sans","fontSize":9,"color":"#000000"},
 "encoding":{"text":{"field":"t"},
  "x":{"datum":0.375,"type":"quantitative","scale":{"domain":[-0.375,194.875],"nice":false,"zero":false}},
  "y":{"datum":0.9917,"type":"quantitative","scale":{"domain":[0.9543,0.99224],"nice":false,"zero":false}}}},
{"data":{"values":[{}]},
 "mark":{"type":"rect","color":"#000000"},
 "encoding":{"x":{"datum":195.1,"type":"quantitative","scale":{"domain":[-0.375,194.875],"nice":false,"zero":false}},
  "x2":{"datum":205},
  "y":{"datum":0.96637,"type":"quantitative","scale":{"domain":[0.9543,0.99224],"nice":false,"zero":false}},
  "y2":{"datum":0.96556}}},
{"data":{"values":[{"t":"0.96596"}]},
 "mark":{"type":"text","align":"left","baseline":"middle","font":"Liberation Sans","fontSize":9,"color":"#ffffff"},
 "encoding":{"text":{"field":"t"},
  "x":{"datum":196.6,"type":"quantitative","scale":{"domain":[-0.375,194.875],"nice":false,"zero":false}},
  "y":{"datum":0.96596,"type":"quantitative","scale":{"domain":[0.9543,0.99224],"nice":false,"zero":false}}}}
]
}
